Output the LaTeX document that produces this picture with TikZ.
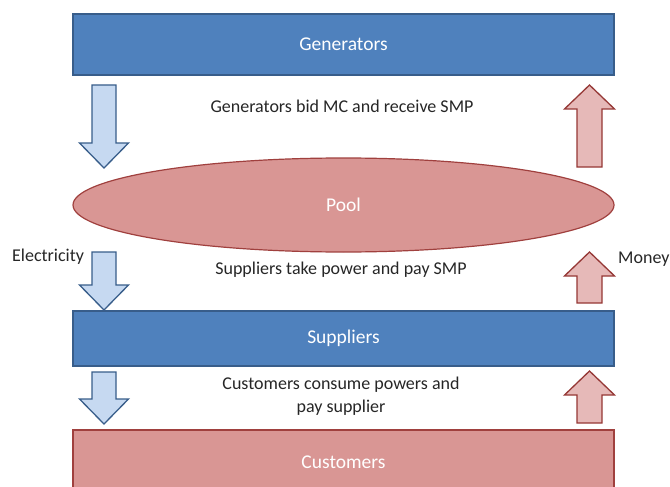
\documentclass[tikz,border=0pt]{standalone}
\usepackage{fontspec}
\setmainfont{Carlito}
\usetikzlibrary{shapes.geometric}
\definecolor{boxblue}{HTML}{4F81BD}
\definecolor{boxblueline}{HTML}{385D8A}
\definecolor{boxred}{HTML}{D99694}
\definecolor{boxredline}{HTML}{A0403E}
\definecolor{arrblue}{HTML}{C6D9F1}
\definecolor{arrred}{HTML}{E6B9B8}
\definecolor{arrredline}{HTML}{953735}
\tikzset{
  bluebox/.style={draw=boxblueline,line width=1.2pt,fill=boxblue,text=white,
    minimum width=541pt,inner sep=0pt,font=\fontsize{19.5}{22}\selectfont},
  redbox/.style={draw=boxredline,line width=1.2pt,fill=boxred,text=white,
    minimum width=541pt,inner sep=0pt,font=\fontsize{19.5}{22}\selectfont},
  flowtext/.style={text=black!85,inner sep=0pt,font=\fontsize{18}{23}\selectfont,align=center},
  downarr/.style={draw=boxblueline,line width=1.3pt,fill=arrblue,line join=miter},
  uparr/.style={draw=arrredline,line width=1.3pt,fill=arrred,line join=miter}
}
% block arrows: x centre, top, bottom
\newcommand{\arrowdown}[3]{%
  \draw[downarr] (#1-12,#2) -- (#1+12,#2) -- (#1+12,#3-25) -- (#1+24.5,#3-25)
    -- (#1,#3) -- (#1-24.5,#3-25) -- (#1-12,#3-25) -- cycle;}
\newcommand{\arrowup}[3]{%
  \draw[uparr] (#1-12.5,#3) -- (#1+12.5,#3) -- (#1+12.5,#2+24) -- (#1+25,#2+24)
    -- (#1,#2) -- (#1-25,#2+24) -- (#1-12.5,#2+24) -- cycle;}
\begin{document}
\begin{tikzpicture}[x=1pt,y=-1pt]
\useasboundingbox (0,0) rectangle (670,487);
% boxes
\node[bluebox,minimum height=61pt] (gen) at (343.5,44.5) {Generators};
\node[ellipse,draw=boxredline,line width=1.2pt,fill=boxred,text=white,
  minimum width=541pt,minimum height=94pt,inner sep=0pt,
  font=\fontsize{19.5}{22}\selectfont] (pool) at (343.5,205) {Pool};
\node[bluebox,minimum height=55pt] (sup) at (343.5,338.5) {Suppliers};
\node[redbox,minimum height=64pt] (cust) at (343.5,462) {Customers};
% texts
\node[flowtext] (bid) at (342,106) {Generators bid MC and receive SMP};
\node[flowtext] (take) at (341,270) {Suppliers take power and pay SMP};
\node[flowtext] (cons) at (341,396) {Customers consume powers and\\pay supplier};
\node[flowtext,anchor=west] (elec) at (12,257) {Electricity};
\node[flowtext,anchor=west] (money) at (618,259) {Money};
% arrows
\arrowdown{104}{85}{168}
\arrowdown{104}{252}{310}
\arrowdown{104}{372}{424}
\arrowup{589.5}{85}{167}
\arrowup{589.5}{252}{303}
\arrowup{589.5}{371}{423}
\end{tikzpicture}
\end{document}
